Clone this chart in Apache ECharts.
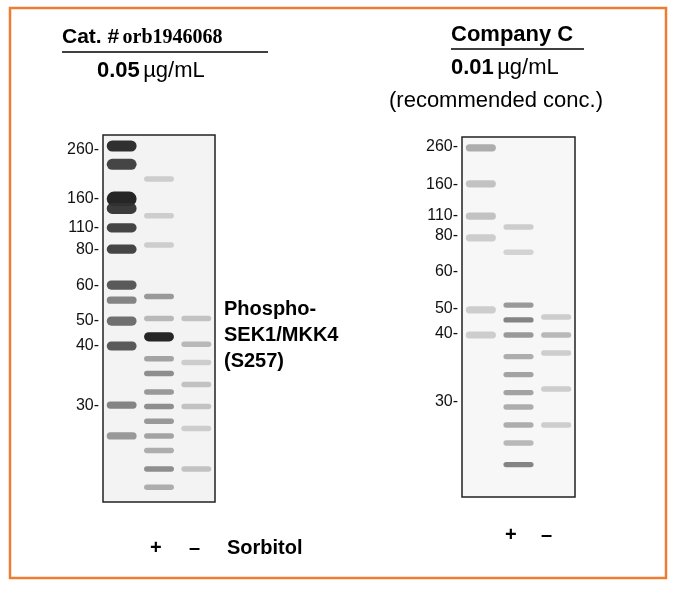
<!DOCTYPE html>
<html><head><meta charset="utf-8">
<script src="https://cdn.jsdelivr.net/npm/echarts@6/dist/echarts.min.js"></script>
<style>body{margin:0}#main{width:677px;height:589px}</style></head>
<body><div id="main"></div>
<script>
// marker sizes (kDa) and their migration (0 = top of blot, 100 = bottom)
var markerKDa = [260, 160, 110, 80, 60, 50, 40, 30];
var markerPosA = [4.1, 17.4, 25.3, 31.1, 40.9, 50.7, 57.5, 73.6];
var markerPosB = [2.8, 13.3, 21.9, 27.5, 37.5, 47.8, 54.7, 73.6];
var lanes = ['ladder', '+', '-'];

// bands: [lane, migration, darkness 0..1, thickness]
var bandsA = [
  [0, 3, 0.9, 3], [0, 8, 0.8, 3], [0, 17.4, 0.95, 4], [0, 20, 0.85, 3], [0, 25.3, 0.8, 2.5],
  [0, 31.1, 0.8, 2.5], [0, 40.9, 0.7, 2.5], [0, 45, 0.5, 2], [0, 50.7, 0.6, 2.5], [0, 57.5, 0.7, 2.5],
  [0, 73.6, 0.5, 2], [0, 82, 0.4, 2],
  [1, 12, 0.15, 1.5], [1, 22, 0.15, 1.5], [1, 30, 0.15, 1.5], [1, 44, 0.4, 1.5], [1, 50, 0.25, 1.5],
  [1, 55, 0.95, 2.5], [1, 61, 0.35, 1.5], [1, 65, 0.45, 1.5], [1, 70, 0.4, 1.5], [1, 74, 0.45, 1.5],
  [1, 78, 0.4, 1.5], [1, 82, 0.35, 1.5], [1, 86, 0.3, 1.5], [1, 91, 0.45, 1.5], [1, 96, 0.3, 1.5],
  [2, 50, 0.2, 1.5], [2, 57, 0.25, 1.5], [2, 62, 0.15, 1.5], [2, 68, 0.2, 1.5], [2, 74, 0.2, 1.5],
  [2, 80, 0.15, 1.5], [2, 91, 0.2, 1.5]
];
var bandsB = [
  [0, 3, 0.3, 2], [0, 13, 0.2, 2], [0, 22, 0.2, 2], [0, 28, 0.15, 2], [0, 48, 0.15, 2], [0, 55, 0.15, 2],
  [1, 25, 0.15, 1.5], [1, 32, 0.12, 1.5], [1, 46.7, 0.4, 1.5], [1, 50.8, 0.5, 1.5], [1, 55, 0.4, 1.5],
  [1, 61, 0.3, 1.5], [1, 66, 0.35, 1.5], [1, 71, 0.35, 1.5], [1, 75, 0.3, 1.5], [1, 80, 0.3, 1.5],
  [1, 85, 0.25, 1.5], [1, 91, 0.5, 1.5],
  [2, 50, 0.15, 1.5], [2, 55, 0.25, 1.5], [2, 60, 0.15, 1.5], [2, 70, 0.15, 1.5], [2, 80, 0.15, 1.5]
];

var chart = echarts.init(document.getElementById('main'));

function bandItem(params, api) {
  var lane = api.value(0), pos = api.value(1), dark = api.value(2), th = api.value(3);
  var c = api.coord([lane, pos]);
  var w = api.size([1, 0])[0] * 0.8;
  var h = api.size([0, th])[1];
  var g = Math.round(235 - dark * 220);
  return {
    type: 'rect',
    shape: { x: c[0] - w / 2, y: c[1] - h / 2, width: w, height: h, r: h / 2 },
    style: { fill: 'rgb(' + g + ',' + g + ',' + g + ')', opacity: 0.95 }
  };
}

function yAxisFor(idx, pos) {
  return {
    gridIndex: idx, type: 'value', inverse: true, min: 0, max: 100,
    splitLine: { show: false }, axisLine: { show: false }, axisTick: { show: false },
    axisLabel: {
      customValues: pos, fontSize: 16, color: '#111', fontFamily: 'Liberation Sans', margin: 4,
      formatter: function (v) { return markerKDa[pos.indexOf(v)] + '-'; }
    }
  };
}

var textFont = 'Liberation Sans';
chart.setOption({
  backgroundColor: '#fff',
  grid: [
    { left: 103, top: 135, width: 112, height: 367, show: true, backgroundColor: '#f3f3f3', borderColor: '#222', borderWidth: 1.5 },
    { left: 462, top: 137, width: 113, height: 360, show: true, backgroundColor: '#f7f7f7', borderColor: '#222', borderWidth: 1.5 }
  ],
  xAxis: [
    { gridIndex: 0, type: 'category', data: lanes, show: false },
    { gridIndex: 1, type: 'category', data: lanes, show: false }
  ],
  yAxis: [yAxisFor(0, markerPosA), yAxisFor(1, markerPosB)],
  series: [
    { type: 'custom', xAxisIndex: 0, yAxisIndex: 0, renderItem: bandItem, data: bandsA, silent: true },
    { type: 'custom', xAxisIndex: 1, yAxisIndex: 1, renderItem: bandItem, data: bandsB, silent: true }
  ],
  graphic: [
    { type: 'rect', shape: { x: 10, y: 8, width: 656, height: 570 }, style: { fill: 'none', stroke: '#ed7d31', lineWidth: 2.5 } },
    { type: 'text', left: 62, top: 27, style: { text: '{b|Cat. #} {s|orb1946068}', rich: { b: { fontFamily: textFont, fontWeight: 'bold', fontSize: 21, fill: '#000' }, s: { fontFamily: 'Liberation Serif', fontWeight: 'bold', fontSize: 20, fill: '#000' } } } },
    { type: 'line', shape: { x1: 62, y1: 52, x2: 268, y2: 52 }, style: { stroke: '#000', lineWidth: 1.5 } },
    { type: 'text', left: 97, top: 60, style: { text: '{b|0.05} {n|µg/mL}', rich: { b: { fontFamily: textFont, fontWeight: 'bold', fontSize: 22, fill: '#000' }, n: { fontFamily: textFont, fontSize: 22, fill: '#000' } } } },
    { type: 'text', left: 451, top: 24, style: { text: 'Company C', fontFamily: textFont, fontWeight: 'bold', fontSize: 22, fill: '#000' } },
    { type: 'line', shape: { x1: 451, y1: 49, x2: 584, y2: 49 }, style: { stroke: '#000', lineWidth: 1.5 } },
    { type: 'text', left: 451, top: 57, style: { text: '{b|0.01} {n|µg/mL}', rich: { b: { fontFamily: textFont, fontWeight: 'bold', fontSize: 22, fill: '#000' }, n: { fontFamily: textFont, fontSize: 22, fill: '#000' } } } },
    { type: 'text', left: 389, top: 90, style: { text: '(recommended conc.)', fontFamily: textFont, fontSize: 22, fill: '#000' } },
    { type: 'text', left: 224, top: 296, style: { text: 'Phospho-\nSEK1/MKK4\n(S257)', fontFamily: textFont, fontWeight: 'bold', fontSize: 20, lineHeight: 26, fill: '#000' } },
    { type: 'text', left: 150, top: 538, style: { text: '+', fontFamily: textFont, fontWeight: 'bold', fontSize: 20, fill: '#000' } },
    { type: 'text', left: 189, top: 538, style: { text: '–', fontFamily: textFont, fontWeight: 'bold', fontSize: 20, fill: '#000' } },
    { type: 'text', left: 227, top: 538, style: { text: 'Sorbitol', fontFamily: textFont, fontWeight: 'bold', fontSize: 20, fill: '#000' } },
    { type: 'text', left: 505, top: 525, style: { text: '+', fontFamily: textFont, fontWeight: 'bold', fontSize: 20, fill: '#000' } },
    { type: 'text', left: 541, top: 525, style: { text: '–', fontFamily: textFont, fontWeight: 'bold', fontSize: 20, fill: '#000' } }
  ]
});
</script></body></html>
